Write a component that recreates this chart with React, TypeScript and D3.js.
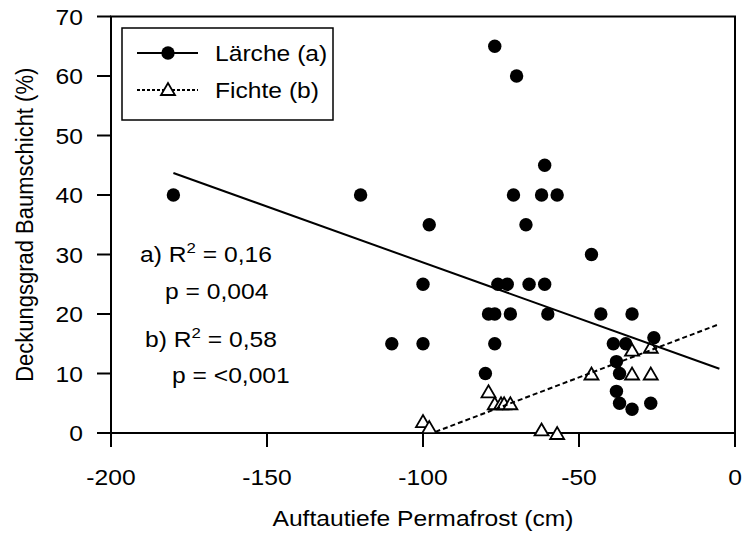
import React from "react";
import * as d3 from "d3";

// Lärche (a): [Auftautiefe (cm), Deckungsgrad (%)]
const larchX = [-180, -120, -77, -70, -61, -71, -62, -57, -98, -67, -46, -100, -76, -73, -66, -61, -79, -77, -72, -60, -43, -33, -110, -100, -77, -39, -35, -26, -38, -80, -37, -38, -37, -33, -27];
const larchY = [40, 40, 65, 60, 45, 40, 40, 40, 35, 35, 30, 25, 25, 25, 25, 25, 20, 20, 20, 20, 20, 20, 15, 15, 15, 15, 15, 16, 12, 10, 10, 7, 5, 4, 5];

// Fichte (b)
const spruceX = [-100, -98, -79, -77, -75, -74, -72, -62, -57, -46, -33, -27, -33, -27];
const spruceY = [2, 1, 7, 5, 5, 5, 5, 0.6, 0, 10, 10, 10, 14, 14.5];

// regression lines (endpoints)
const larchFit: [number, number][] = [[-180, 43.7], [-5, 10.8]];
const spruceFit: [number, number][] = [[-96, 0.2], [-5, 18.3]];

const xTicks = [-200, -150, -100, -50, 0];
const yTicks = [0, 10, 20, 30, 40, 50, 60, 70];

const xTitle = "Auftautiefe Permafrost (cm)";
const yTitle = "Deckungsgrad Baumschicht (%)";
const legendLabels = ["Lärche (a)", "Fichte (b)"];
const statsA = { label: "a) R", r2: "0,16", p: "0,004" };
const statsB = { label: "b) R", r2: "0,58", p: "<0,001" };

const W = 745;
const H = 535;
const FONT = "'Liberation Sans', Arial, Helvetica, sans-serif";
const SX = 1.12;
const FS = 22;

const x = d3.scaleLinear().domain([-200, 0]).range([111, 735]);
const y = d3.scaleLinear().domain([0, 70]).range([433, 16.5]);

const line = d3
  .line<[number, number]>()
  .x((d) => x(d[0]))
  .y((d) => y(d[1]));

function tri(cx: number, cy: number) {
  const hw = 7, h = 12;
  return `M${cx - hw},${cy + h / 2}L${cx + hw},${cy + h / 2}L${cx},${cy - h / 2}Z`;
}

function T(props: { x: number; y: number; anchor?: string; children: React.ReactNode; size?: number }) {
  return (
    <text
      transform={`translate(${props.x},${props.y}) scale(${SX},1)`}
      textAnchor={props.anchor || "start"}
      fontFamily={FONT}
      fontSize={props.size || FS}
      fill="#000"
    >
      {props.children}
    </text>
  );
}

function Stat({ x0, y0, label, r2, p, px, py }: any) {
  return (
    <g>
      <T x={x0} y={y0}>
        {label}
        <tspan fontSize={15} dy={-9}>2</tspan>
        <tspan dy={9}>{" = " + r2}</tspan>
      </T>
      <T x={px} y={py}>{"p = " + p}</T>
    </g>
  );
}

export default function App() {
  const [x0, x1] = x.range();
  const [y0, y1] = y.range();
  return (
    <div style={{ position: "absolute", left: 0, top: 0 }}>
      <svg width={W} height={H} viewBox={`0 0 ${W} ${H}`} style={{ display: "block", background: "#fff" }}>
        <rect x={0} y={0} width={W} height={H} fill="#fff" />
        {/* frame */}
        <rect x={x0} y={y1} width={x1 - x0} height={y0 - y1} fill="none" stroke="#000" strokeWidth={2} />
        {/* y ticks */}
        {yTicks.map((t) => (
          <g key={"y" + t}>
            <line x1={x0 - 14} x2={x0} y1={y(t)} y2={y(t)} stroke="#000" strokeWidth={2} />
            <T x={83} y={y(t) + 8} anchor="end">{t}</T>
          </g>
        ))}
        {/* x ticks */}
        {xTicks.map((t) => (
          <g key={"x" + t}>
            <line x1={x(t)} x2={x(t)} y1={y0} y2={y0 + 14} stroke="#000" strokeWidth={2} />
            <T x={x(t)} y={485} anchor="middle">{t}</T>
          </g>
        ))}
        <T x={(x0 + x1) / 2} y={526} anchor="middle">{xTitle}</T>
        <text
          transform={`translate(33,${(y0 + y1) / 2}) scale(${SX},1) rotate(-90)`}
          textAnchor="middle"
          fontFamily={FONT}
          fontSize={FS}
        >
          {yTitle}
        </text>

        {/* Lärche points */}
        {larchX.map((v, i) => (
          <circle key={"l" + i} cx={x(v)} cy={y(larchY[i])} r={6.7} fill="#000" />
        ))}
        {/* Fichte points */}
        {spruceX.map((v, i) => (
          <path key={"s" + i} d={tri(x(v), y(spruceY[i]))} fill="#fff" stroke="#000" strokeWidth={1.8} />
        ))}
        {/* regression lines */}
        <path d={line(larchFit) || ""} fill="none" stroke="#000" strokeWidth={2} />
        <path d={line(spruceFit) || ""} fill="none" stroke="#000" strokeWidth={2} strokeDasharray="5,3" />

        {/* stats */}
        <Stat x0={140} y0={262} label={statsA.label} r2={statsA.r2} p={statsA.p} px={165} py={299} />
        <Stat x0={145} y0={347} label={statsB.label} r2={statsB.r2} p={statsB.p} px={172} py={383} />

        {/* legend */}
        <rect x={122} y={28} width={211} height={92} fill="#fff" stroke="#000" strokeWidth={1.5} />
        <line x1={137} x2={198} y1={53} y2={53} stroke="#000" strokeWidth={2} />
        <circle cx={168} cy={53} r={6.7} fill="#000" />
        <T x={215} y={61}>{legendLabels[0]}</T>
        <line x1={137} x2={198} y1={90} y2={90} stroke="#000" strokeWidth={2} strokeDasharray="3,2" />
        <path d={tri(168, 89)} fill="#fff" stroke="#000" strokeWidth={1.8} />
        <T x={215} y={98}>{legendLabels[1]}</T>
      </svg>
    </div>
  );
}
